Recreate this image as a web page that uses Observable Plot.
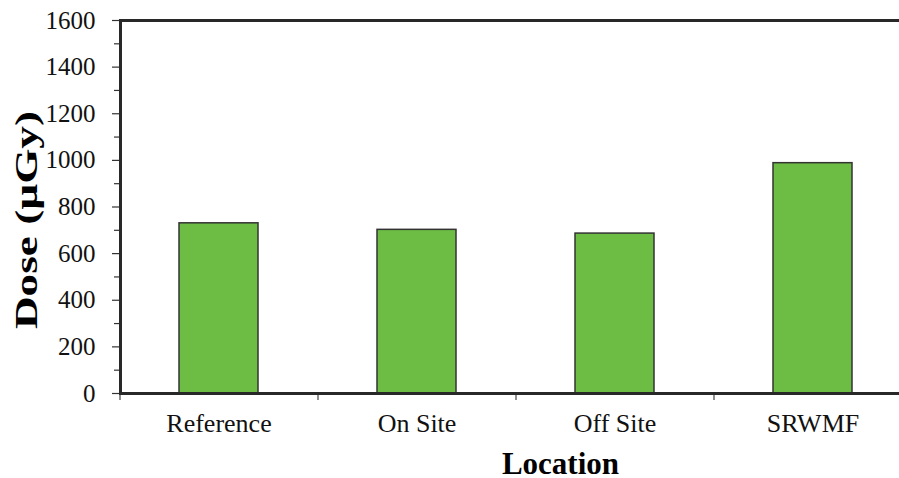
<!DOCTYPE html>
<html>
<head>
<meta charset="utf-8">
<script src="https://cdn.jsdelivr.net/npm/d3@7"></script>
<script src="https://cdn.jsdelivr.net/npm/@observablehq/plot@0.6"></script>
<style>
  html, body { margin: 0; padding: 0; background: #fff; overflow: hidden; width: 899px; height: 478px; }
  #chart { width: 899px; height: 478px; overflow: hidden; }
  #chart svg { max-width: none !important; }
</style>
</head>
<body>
<div id="chart"></div>
<script>
const categories = ["Reference", "On Site", "Off Site", "SRWMF"];
const doses = [730, 702, 686, 988];
const majorTicks = [0, 200, 400, 600, 800, 1000, 1200, 1400, 1600];
const minorTicks = [100, 300, 500, 700, 900, 1100, 1300, 1500];
const xTitle = "Location";
const yTitle = "Dose (µGy)";

const data = categories.map((c, i) => ({location: c, dose: doses[i]}));
const font = "'Liberation Serif', 'Times New Roman', serif";
const W = 912, H = 478, ML = 120, MR = 0, MT = 20, MB = 85;
const step = (W - ML - MR) / categories.length;

const chart = Plot.plot({
  width: W,
  height: H,
  marginLeft: ML,
  marginRight: MR,
  marginTop: MT,
  marginBottom: MB,
  style: {fontFamily: font, fontSize: "25px", color: "#231f20", background: "#fff", maxWidth: "none"},
  x: {domain: categories, padding: 0.6, paddingOuter: 0.3},
  y: {domain: [0, 1600]},
  marks: [
    Plot.barY(data, {x: "location", y: "dose", fill: "#6dbd45", stroke: "#333", strokeWidth: 1.5}),
    Plot.axisY({ticks: majorTicks, tickSize: 8, tickPadding: 17, tickFormat: d => String(d), fontSize: 25, fontFamily: font, fill: "#111", label: null, stroke: "#333", strokeWidth: 1.2}),
    Plot.axisY({ticks: minorTicks, tickSize: 6, tickFormat: () => "", label: null, stroke: "#333", strokeWidth: 1.2}),
    Plot.axisX({tickSize: 0, tickPadding: 20, fontSize: 26, fontFamily: font, fill: "#111", label: null}),
    Plot.ruleX(categories, {x: d => d, dx: -step / 2, y1: 0, y2: 0, insetBottom: -7, stroke: "#444", strokeWidth: 1.2}),
    Plot.frame({stroke: "#282828", strokeWidth: 3}),
    Plot.text([xTitle], {frameAnchor: "bottom", dx: 44, dy: 80, fontSize: 31, fontWeight: "bold", fontFamily: font, lineAnchor: "bottom", fill: "#000"}),
    Plot.text([yTitle], {frameAnchor: "left", dx: -84, dy: 122, rotate: -90, textAnchor: "start", fontSize: 31, fontWeight: "bold", fontFamily: font, lineAnchor: "bottom", fill: "#000"})
  ]
});
document.getElementById("chart").appendChild(chart);
d3.select(chart).selectAll("text").filter(function() { return this.textContent === yTitle; })
  .attr("textLength", 218).attr("lengthAdjust", "spacingAndGlyphs");
</script>
</body>
</html>
